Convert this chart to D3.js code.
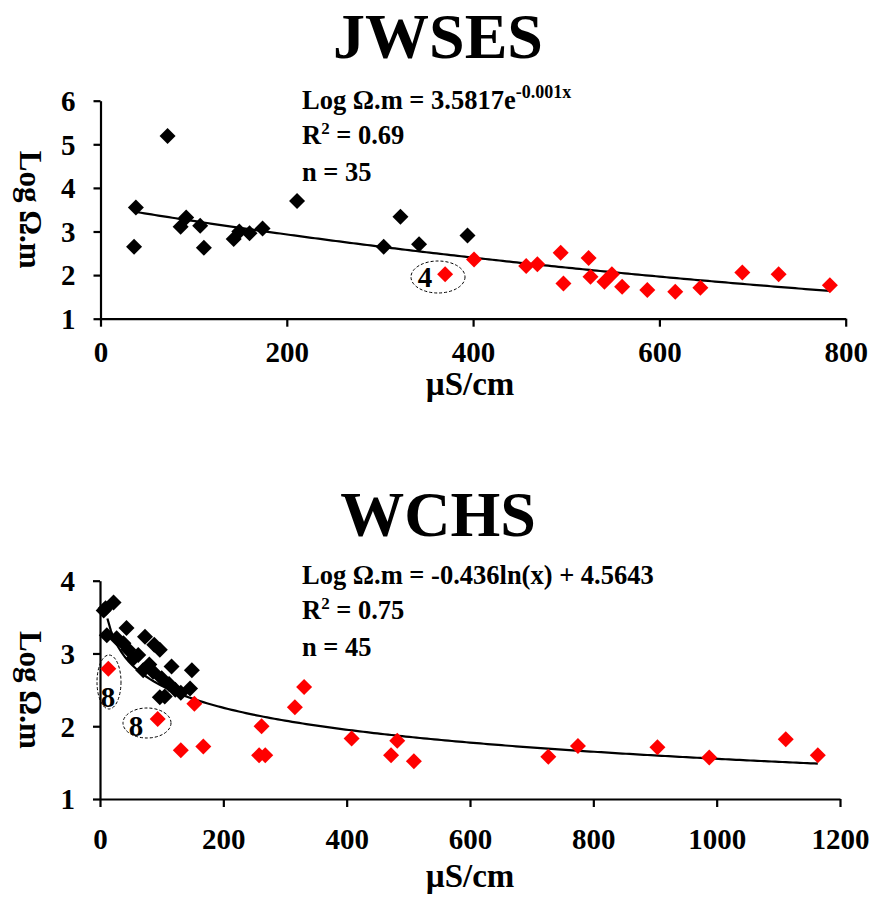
<!DOCTYPE html>
<html>
<head>
<meta charset="utf-8">
<script src="https://cdn.jsdelivr.net/npm/d3@7"></script>
<style>
  html, body { margin: 0; padding: 0; background: #fff; }
  svg { display: block; }
  text { font-family: "Liberation Serif", "Times New Roman", serif; font-weight: bold; fill: #000; }
</style>
</head>
<body>
<svg id="chart" width="875" height="899"></svg>
<script>
// ---- JWSES panel ----
const jwsesBlackX = [36, 38, 72, 86, 92, 107, 111, 143, 149, 160, 174, 211, 304, 322, 342, 394];
const jwsesBlackY = [2.65, 3.55, 5.19, 3.11, 3.32, 3.13, 2.63, 2.83, 3.00, 2.96, 3.07, 3.70, 2.65, 3.34, 2.71, 2.91];
const jwsesRedX = [370, 401, 457, 469, 494, 497, 524, 526, 541, 549, 560, 587, 617, 644, 689, 728, 783];
const jwsesRedY = [2.02, 2.36, 2.21, 2.25, 2.51, 1.81, 2.39, 1.96, 1.85, 2.02, 1.73, 1.66, 1.62, 1.71, 2.06, 2.02, 1.77];
const jwsesXTicks = [0, 200, 400, 600, 800];
const jwsesYTicks = [1, 2, 3, 4, 5, 6];
const jwsesCoef = { a: 3.5817, b: -0.001 };      // Log Ω.m = a·e^(b·x)
const jwsesStats = { r2: "0.69", n: "35" };

// ---- WCHS panel ----
const wchsBlackX = [6, 9, 22, 11, 27, 38, 43, 46, 54, 62, 70, 73, 80, 86, 88, 97, 100, 97, 105, 112, 116, 122, 131, 146, 149];
const wchsBlackY = [3.59, 3.62, 3.70, 3.25, 3.21, 3.14, 3.35, 3.05, 2.93, 2.98, 2.77, 3.23, 2.85, 2.75, 3.12, 3.05, 2.66, 2.40, 2.41, 2.58, 2.82, 2.50, 2.46, 2.52, 2.77];
const wchsRedX = [13.5, 93.5, 131, 153, 167.5, 258, 262, 268, 316, 331, 408, 472, 482, 509, 727, 775, 904, 988, 1112, 1164];
const wchsRedY = [2.79, 2.10, 1.67, 2.31, 1.72, 1.60, 2.00, 1.60, 2.26, 2.54, 1.83, 1.60, 1.80, 1.52, 1.58, 1.73, 1.71, 1.57, 1.82, 1.60];
const wchsXTicks = [0, 200, 400, 600, 800, 1000, 1200];
const wchsYTicks = [1, 2, 3, 4];
const wchsCoef = { a: -0.436, b: 4.5643 };       // Log Ω.m = a·ln(x) + b
const wchsStats = { r2: "0.75", n: "45" };

const svg = d3.select("#chart");
const diamond = d3.symbol().type(d3.symbolSquare).size(128);

function panel(cfg) {
  const x = d3.scaleLinear().domain(cfg.xDomain).range(cfg.xRange);
  const y = d3.scaleLinear().domain(cfg.yDomain).range(cfg.yRange);
  const g = svg.append("g");

  // title
  g.append("text").attr("x", 438).attr("y", cfg.titleY)
    .attr("text-anchor", "middle").style("font-size", "64px").text(cfg.title);

  // axes
  const ax = g.append("g").attr("transform", `translate(0,${cfg.yRange[0]})`)
    .call(d3.axisBottom(x).tickValues(cfg.xTicks).tickSize(8).tickSizeOuter(0).tickFormat(d3.format("d")));
  const ay = g.append("g").attr("transform", `translate(${cfg.xRange[0]},0)`)
    .call(d3.axisLeft(y).tickValues(cfg.yTicks).tickSize(7).tickSizeOuter(0).tickFormat(d3.format("d")));
  [ax, ay].forEach(a => {
    a.select(".domain").attr("stroke", "#000").attr("stroke-width", 2.2);
    a.selectAll(".tick line").attr("stroke", "#000").attr("stroke-width", 2.2);
    a.selectAll(".tick text").style("font-size", "29px").style("font-family", "Liberation Serif, serif").style("font-weight", "bold");
  });
  ax.selectAll(".tick text").attr("dy", null).attr("y", cfg.tickLabelOffset);
  ay.selectAll(".tick text").attr("x", -25).attr("dy", "0.34em");

  // axis titles
  g.append("text").attr("x", 470).attr("y", cfg.yRange[0] + cfg.xTitleOffset)
    .attr("text-anchor", "middle").style("font-size", "33px").text("µS/cm");
  g.append("text")
    .attr("transform", `translate(20,${(cfg.yRange[0] + cfg.yRange[1]) / 2}) rotate(90)`)
    .attr("text-anchor", "middle").style("font-size", "31px").text("Log Ω.m");

  // trend line
  const xs = d3.range(cfg.trendFrom, cfg.trendTo, (cfg.trendTo - cfg.trendFrom) / 200).concat([cfg.trendTo]);
  g.append("path")
    .datum(xs)
    .attr("fill", "none").attr("stroke", "#000").attr("stroke-width", 2.2)
    .attr("d", d3.line().x(d => x(d)).y(d => y(cfg.trend(d))));

  // markers
  const pts = (xa, ya, color) => xa.map((v, i) => ({ x: v, y: ya[i], c: color }));
  const all = pts(cfg.blackX, cfg.blackY, "#000").concat(pts(cfg.redX, cfg.redY, "#ff0000"));
  g.selectAll("path.pt").data(all).join("path").attr("class", "pt")
    .attr("d", diamond)
    .attr("fill", d => d.c)
    .attr("transform", d => `translate(${x(d.x)},${y(d.y)}) rotate(45)`);

  // equation block
  const eq = g.append("text").attr("x", 302).attr("y", cfg.eqY).style("font-size", "26.5px");
  cfg.equation(eq);
  const r2 = g.append("text").attr("x", 302).attr("y", cfg.eqY + 35).style("font-size", "26.5px");
  r2.append("tspan").text("R");
  r2.append("tspan").attr("dy", -10).style("font-size", "17px").text("2");
  r2.append("tspan").attr("dy", 10).text(" = " + cfg.stats.r2);
  g.append("text").attr("x", 302).attr("y", cfg.eqY + 72).style("font-size", "26.5px").text("n = " + cfg.stats.n);

  // circled sample labels
  cfg.marks.forEach(m => {
    g.append("ellipse").attr("cx", m.cx).attr("cy", m.cy).attr("rx", m.rx).attr("ry", m.ry)
      .attr("fill", "none").attr("stroke", "#000").attr("stroke-width", 1).attr("stroke-dasharray", "3,2");
    g.append("text").attr("x", m.tx).attr("y", m.ty).attr("text-anchor", "middle")
      .style("font-size", "29px").text(m.label);
  });
  return { x, y };
}

panel({
  title: "JWSES", titleY: 58,
  xDomain: [0, 800], xRange: [100.5, 845.7],
  yDomain: [1, 6], yRange: [318.7, 100.7],
  xTicks: jwsesXTicks, yTicks: jwsesYTicks,
  tickLabelOffset: 43, xTitleOffset: 76,
  blackX: jwsesBlackX, blackY: jwsesBlackY, redX: jwsesRedX, redY: jwsesRedY,
  trend: v => jwsesCoef.a * Math.exp(jwsesCoef.b * v),
  trendFrom: d3.min(jwsesBlackX), trendTo: d3.max(jwsesRedX),
  eqY: 109,
  equation: t => {
    t.append("tspan").text("Log Ω.m = " + jwsesCoef.a + "e");
    t.append("tspan").attr("dy", -11).style("font-size", "18px").text(jwsesCoef.b + "x");
  },
  stats: jwsesStats,
  marks: [{ cx: 438, cy: 277, rx: 27, ry: 16, tx: 425, ty: 287, label: "4" }]
});

panel({
  title: "WCHS", titleY: 536,
  xDomain: [0, 1200], xRange: [100, 840],
  yDomain: [1, 4], yRange: [799, 580.7],
  xTicks: wchsXTicks, yTicks: wchsYTicks,
  tickLabelOffset: 50, xTitleOffset: 88,
  blackX: wchsBlackX, blackY: wchsBlackY, redX: wchsRedX, redY: wchsRedY,
  trend: v => wchsCoef.a * Math.log(v) + wchsCoef.b,
  trendFrom: 12, trendTo: d3.max(wchsRedX),
  eqY: 584,
  equation: t => t.text("Log Ω.m = " + wchsCoef.a + "ln(x) + " + wchsCoef.b),
  stats: wchsStats,
  marks: [
    { cx: 109, cy: 682, rx: 12, ry: 27, tx: 108, ty: 707, label: "8" },
    { cx: 147, cy: 723, rx: 24, ry: 15, tx: 136, ty: 736, label: "8" }
  ]
});
</script>
</body>
</html>
